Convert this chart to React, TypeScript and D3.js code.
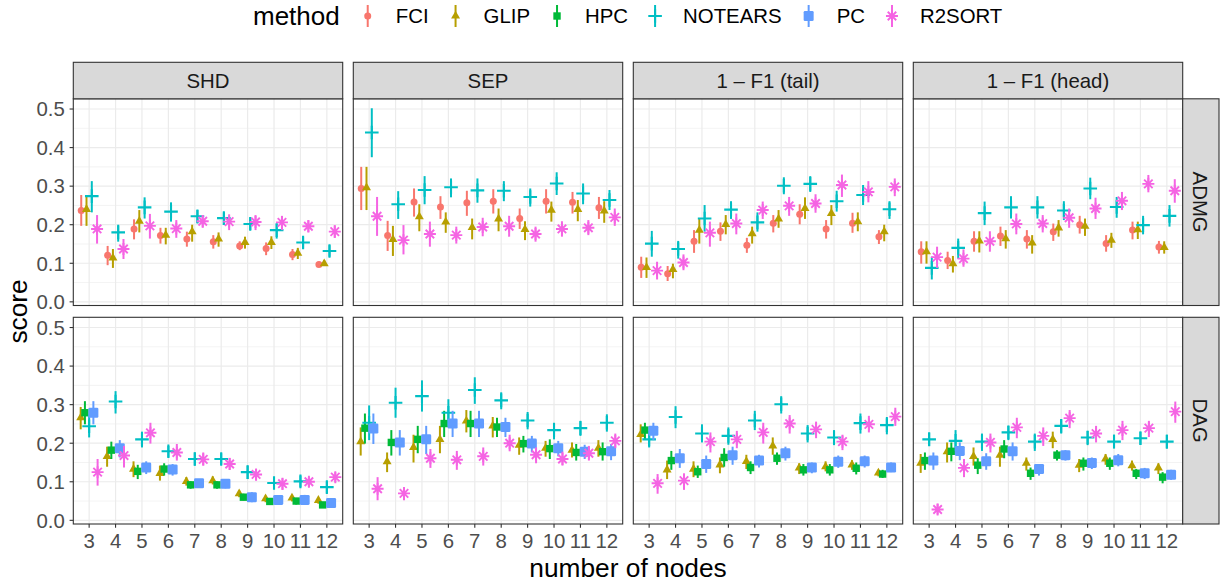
import React, { useMemo } from 'react';
import * as d3 from 'd3';

// ---------- categories ----------
const NODES = [3, 4, 5, 6, 7, 8, 9, 10, 11, 12];
const METHODS = ['FCI', 'GLIP', 'HPC', 'NOTEARS', 'PC', 'R2SORT'];
const METHOD_COLORS = ['#F8766D', '#B79F00', '#00BA38', '#00BFC4', '#619CFF', '#F564E3'];
const METRICS = ['SHD', 'SEP', '1 – F1 (tail)', '1 – F1 (head)'];
const GRAPH_TYPES = ['ADMG', 'DAG'];
const Y_TICKS = [0, 0.1, 0.2, 0.3, 0.4, 0.5];
const Y_MINOR = [0.05, 0.15, 0.25, 0.35, 0.45];

// ---------- data: [mean, lower, upper] per node count ----------
// ADMG – SHD
const ADMG_SHD_FCI = [[.237,.197,.277],[.121,.095,.145],[.189,.162,.214],[.172,.151,.192],[.163,.143,.182],[.156,.138,.173],[.145,.134,.157],[.138,.121,.154],[.123,.108,.137],[.097,.091,.104]];
const ADMG_SHD_GLIP = [[.24,.197,.272],[.114,.088,.137],[.209,.18,.238],[.173,.149,.192],[.182,.156,.2],[.163,.143,.18],[.154,.138,.169],[.154,.137,.17],[.126,.111,.14],[.099,.093,.108]];
const ADMG_SHD_NOTEARS = [[.274,.232,.313],[.18,.156,.2],[.245,.216,.271],[.234,.208,.258],[.222,.203,.238],[.217,.2,.232],[.202,.186,.22],[.186,.164,.203],[.154,.138,.169],[.132,.117,.147]];
const ADMG_SHD_R2SORT = [[.189,.151,.225],[.137,.111,.163],[.197,.164,.228],[.19,.166,.212],[.209,.192,.225],[.208,.186,.227],[.207,.186,.225],[.206,.186,.223],[.196,.18,.212],[.182,.166,.199]];
// ADMG – SEP
const ADMG_SEP_FCI = [[.294,.238,.35],[.172,.132,.21],[.259,.221,.294],[.246,.215,.274],[.257,.223,.288],[.261,.229,.292],[.216,.189,.242],[.261,.229,.292],[.258,.229,.285],[.244,.215,.272]];
const ADMG_SEP_GLIP = [[.296,.238,.35],[.162,.119,.197],[.221,.183,.253],[.207,.179,.232],[.193,.162,.216],[.215,.183,.242],[.188,.16,.209],[.238,.208,.26],[.24,.209,.264],[.236,.205,.261]];
const ADMG_SEP_NOTEARS = [[.439,.375,.502],[.253,.215,.287],[.29,.253,.326],[.297,.271,.32],[.289,.257,.32],[.288,.261,.313],[.272,.247,.294],[.307,.277,.336],[.281,.253,.307],[.264,.238,.29]];
const ADMG_SEP_R2SORT = [[.222,.171,.272],[.16,.123,.199],[.176,.143,.208],[.173,.151,.195],[.194,.17,.218],[.196,.169,.223],[.176,.156,.195],[.189,.169,.209],[.192,.173,.212],[.219,.197,.242]];
// ADMG – 1-F1 (tail)
const ADMG_TAIL_FCI = [[.09,.062,.117],[.073,.054,.093],[.157,.127,.186],[.183,.158,.206],[.147,.127,.166],[.204,.18,.225],[.227,.201,.253],[.189,.164,.212],[.204,.179,.231],[.169,.15,.186]];
const ADMG_TAIL_GLIP = [[.089,.062,.115],[.084,.061,.099],[.186,.151,.215],[.201,.175,.225],[.177,.151,.195],[.215,.192,.238],[.242,.215,.271],[.229,.199,.251],[.208,.183,.232],[.182,.157,.2]];
const ADMG_TAIL_NOTEARS = [[.151,.117,.184],[.137,.112,.158],[.216,.182,.251],[.239,.215,.261],[.206,.182,.232],[.301,.279,.323],[.306,.285,.326],[.261,.234,.288],[.277,.251,.303],[.24,.215,.261]];
const ADMG_TAIL_R2SORT = [[.081,.058,.104],[.102,.082,.123],[.179,.143,.208],[.203,.175,.229],[.238,.215,.26],[.249,.223,.272],[.255,.231,.279],[.303,.272,.33],[.285,.258,.313],[.298,.274,.32]];
// ADMG – 1-F1 (head)
const ADMG_HEAD_FCI = [[.13,.099,.157],[.107,.085,.13],[.157,.13,.183],[.171,.145,.195],[.163,.138,.186],[.182,.158,.203],[.2,.177,.223],[.151,.13,.173],[.186,.162,.208],[.142,.125,.158]];
const ADMG_HEAD_GLIP = [[.13,.099,.157],[.099,.076,.119],[.158,.128,.183],[.164,.138,.186],[.153,.125,.173],[.192,.169,.212],[.196,.171,.216],[.16,.14,.179],[.187,.163,.208],[.141,.125,.157]];
const ADMG_HEAD_NOTEARS = [[.088,.058,.117],[.14,.112,.164],[.23,.199,.26],[.245,.216,.274],[.245,.216,.274],[.237,.212,.261],[.294,.266,.322],[.246,.218,.272],[.199,.175,.223],[.223,.195,.251]];
const ADMG_HEAD_R2SORT = [[.116,.088,.143],[.112,.091,.136],[.157,.13,.183],[.202,.175,.229],[.203,.18,.225],[.218,.192,.242],[.242,.215,.27],[.262,.238,.285],[.306,.284,.329],[.288,.257,.318]];
// DAG – SHD
const DAG_SHD_GLIP = [[.266,.236,.294],[.166,.139,.191],[.133,.112,.153],[.122,.103,.142],[.101,.09,.112],[.103,.093,.114],[.069,.06,.077],[.056,.047,.064],[.058,.049,.066],[.052,.043,.058]];
const DAG_SHD_HPC = [[.279,.249,.309],[.182,.159,.204],[.127,.107,.144],[.133,.116,.148],[.092,.082,.101],[.092,.082,.101],[.06,.052,.069],[.049,.041,.056],[.05,.041,.058],[.04,.033,.047]];
const DAG_SHD_NOTEARS = [[.244,.215,.275],[.308,.277,.335],[.21,.189,.23],[.179,.163,.193],[.159,.142,.176],[.159,.144,.174],[.125,.107,.142],[.097,.082,.112],[.101,.086,.116],[.086,.07,.101]];
const DAG_SHD_PC = [[.279,.249,.309],[.187,.163,.208],[.137,.12,.153],[.132,.116,.146],[.096,.084,.107],[.095,.083,.106],[.06,.047,.073],[.053,.041,.064],[.053,.041,.066],[.045,.033,.056]];
const DAG_SHD_R2SORT = [[.125,.09,.159],[.168,.137,.193],[.227,.199,.253],[.176,.155,.198],[.158,.142,.176],[.146,.131,.162],[.119,.103,.133],[.095,.079,.109],[.1,.086,.113],[.112,.099,.125]];
// DAG – SEP
const DAG_SEP_GLIP = [[.204,.168,.241],[.152,.125,.176],[.189,.15,.222],[.21,.174,.245],[.258,.228,.286],[.245,.215,.268],[.195,.17,.215],[.187,.165,.206],[.182,.163,.202],[.187,.165,.208]];
const DAG_SEP_HPC = [[.239,.199,.277],[.202,.168,.234],[.21,.174,.245],[.251,.216,.284],[.251,.216,.284],[.242,.216,.266],[.199,.176,.219],[.186,.159,.21],[.176,.155,.198],[.178,.155,.202]];
const DAG_SEP_NOTEARS = [[.253,.208,.298],[.305,.266,.344],[.322,.282,.363],[.279,.245,.314],[.338,.302,.371],[.311,.288,.332],[.259,.236,.281],[.234,.21,.253],[.239,.219,.258],[.253,.23,.275]];
const DAG_SEP_PC = [[.238,.198,.277],[.202,.168,.234],[.21,.172,.245],[.251,.216,.284],[.251,.216,.284],[.242,.216,.266],[.199,.176,.219],[.187,.166,.206],[.178,.159,.196],[.179,.156,.198]];
const DAG_SEP_R2SORT = [[.082,.052,.112],[.07,.052,.086],[.161,.136,.185],[.157,.131,.18],[.166,.142,.189],[.2,.179,.222],[.17,.148,.189],[.159,.142,.178],[.174,.155,.193],[.206,.187,.225]];
// DAG – 1-F1 (tail)
const DAG_TAIL_GLIP = [[.223,.202,.249],[.131,.107,.155],[.133,.112,.153],[.144,.122,.163],[.153,.133,.17],[.193,.17,.215],[.136,.12,.148],[.139,.127,.153],[.144,.131,.156],[.123,.114,.131]];
const DAG_TAIL_HPC = [[.234,.21,.253],[.155,.131,.18],[.126,.11,.142],[.163,.139,.187],[.137,.12,.153],[.161,.144,.176],[.131,.116,.146],[.131,.116,.146],[.135,.119,.15],[.12,.11,.131]];
const DAG_TAIL_NOTEARS = [[.21,.189,.232],[.268,.239,.296],[.225,.202,.249],[.219,.196,.241],[.259,.234,.284],[.301,.277,.322],[.225,.202,.247],[.215,.195,.234],[.252,.225,.277],[.247,.223,.268]];
const DAG_TAIL_PC = [[.232,.208,.253],[.161,.136,.185],[.146,.123,.168],[.169,.144,.191],[.155,.137,.17],[.174,.155,.191],[.137,.122,.15],[.152,.136,.168],[.153,.137,.168],[.137,.125,.15]];
const DAG_TAIL_R2SORT = [[.096,.069,.12],[.103,.079,.122],[.204,.176,.228],[.21,.187,.232],[.228,.199,.253],[.251,.225,.273],[.236,.213,.256],[.204,.182,.222],[.249,.228,.271],[.269,.245,.292]];
// DAG – 1-F1 (head)
const DAG_HEAD_GLIP = [[.148,.123,.172],[.178,.15,.202],[.166,.142,.189],[.169,.139,.191],[.148,.129,.163],[.21,.187,.23],[.143,.125,.159],[.159,.144,.172],[.142,.129,.155],[.136,.12,.148]];
const DAG_HEAD_HPC = [[.155,.131,.176],[.179,.153,.202],[.143,.12,.161],[.185,.161,.208],[.122,.105,.137],[.169,.155,.182],[.148,.129,.163],[.148,.131,.163],[.122,.107,.133],[.112,.096,.125]];
const DAG_HEAD_NOTEARS = [[.21,.193,.228],[.206,.18,.234],[.204,.18,.225],[.228,.208,.245],[.204,.18,.225],[.245,.225,.262],[.215,.195,.232],[.204,.187,.222],[.213,.196,.23],[.204,.186,.222]];
const DAG_HEAD_PC = [[.155,.131,.176],[.18,.156,.202],[.153,.131,.174],[.179,.155,.202],[.133,.116,.146],[.169,.155,.182],[.149,.133,.163],[.156,.14,.172],[.122,.107,.136],[.118,.105,.131]];
const DAG_HEAD_R2SORT = [[.028,.015,.043],[.136,.112,.159],[.202,.176,.225],[.241,.213,.266],[.219,.193,.241],[.265,.239,.286],[.225,.202,.245],[.234,.208,.258],[.239,.216,.258],[.282,.253,.308]];

// panel table: [row][col] -> { method: values }
const PANEL_DATA: Record<string, number[][]>[][] = [
  [
    { FCI: ADMG_SHD_FCI, GLIP: ADMG_SHD_GLIP, NOTEARS: ADMG_SHD_NOTEARS, R2SORT: ADMG_SHD_R2SORT },
    { FCI: ADMG_SEP_FCI, GLIP: ADMG_SEP_GLIP, NOTEARS: ADMG_SEP_NOTEARS, R2SORT: ADMG_SEP_R2SORT },
    { FCI: ADMG_TAIL_FCI, GLIP: ADMG_TAIL_GLIP, NOTEARS: ADMG_TAIL_NOTEARS, R2SORT: ADMG_TAIL_R2SORT },
    { FCI: ADMG_HEAD_FCI, GLIP: ADMG_HEAD_GLIP, NOTEARS: ADMG_HEAD_NOTEARS, R2SORT: ADMG_HEAD_R2SORT },
  ],
  [
    { GLIP: DAG_SHD_GLIP, HPC: DAG_SHD_HPC, NOTEARS: DAG_SHD_NOTEARS, PC: DAG_SHD_PC, R2SORT: DAG_SHD_R2SORT },
    { GLIP: DAG_SEP_GLIP, HPC: DAG_SEP_HPC, NOTEARS: DAG_SEP_NOTEARS, PC: DAG_SEP_PC, R2SORT: DAG_SEP_R2SORT },
    { GLIP: DAG_TAIL_GLIP, HPC: DAG_TAIL_HPC, NOTEARS: DAG_TAIL_NOTEARS, PC: DAG_TAIL_PC, R2SORT: DAG_TAIL_R2SORT },
    { GLIP: DAG_HEAD_GLIP, HPC: DAG_HEAD_HPC, NOTEARS: DAG_HEAD_NOTEARS, PC: DAG_HEAD_PC, R2SORT: DAG_HEAD_R2SORT },
  ],
];

const FONT = "'Liberation Sans', Arial, Helvetica, sans-serif";

function Marker({ method, cx, cy, color }: { method: string; cx: number; cy: number; color: string }) {
  switch (method) {
    case 'FCI':
      return <circle cx={cx} cy={cy} r={3.5} fill={color} />;
    case 'GLIP': {
      const s = 9, h = s * 0.866;
      return <path d={`M${cx},${cy - (2 * h) / 3}L${cx + s / 2},${cy + h / 3}L${cx - s / 2},${cy + h / 3}Z`} fill={color} />;
    }
    case 'HPC':
      return <rect x={cx - 3.7} y={cy - 3.7} width={7.4} height={7.4} fill={color} />;
    case 'NOTEARS':
      return <path d={`M${cx - 6.8},${cy}H${cx + 6.8}M${cx},${cy - 6.8}V${cy + 6.8}`} stroke={color} strokeWidth={2.1} fill="none" />;
    case 'PC':
      return <rect x={cx - 5} y={cy - 5} width={10} height={10} rx={1.3} fill={color} />;
    case 'R2SORT': {
      const r = 6, d = r * 0.707;
      return (
        <path
          d={`M${cx - r},${cy}H${cx + r}M${cx},${cy - r}V${cy + r}M${cx - d},${cy - d}L${cx + d},${cy + d}M${cx - d},${cy + d}L${cx + d},${cy - d}`}
          stroke={color}
          strokeWidth={1.9}
          fill="none"
        />
      );
    }
    default:
      return null;
  }
}

export default function App() {
  const W = 1225, H = 588;
  const left0 = 73.3, panelW = 269.4, gapX = 10.6;
  const rowTop = [98.8, 317.3];
  const panelH = 206.7;
  const stripTop = 62.3;
  const rightStripX = 1182.7, rightStripW = 36.3;

  const x = d3.scaleLinear().domain([2.4, 12.6]).range([0, panelW]);
  const y = d3.scaleLinear().domain([-0.0095, 0.5265]).range([panelH, 0]);
  const dodgeWidth = 0.8;

  const smallSize = 20.4;
  const titleSize = 26.3;

  // legend layout via text measurement
  const legend = useMemo(() => {
    const canvas = document.createElement('canvas');
    const ctx = canvas.getContext('2d')!;
    ctx.font = `${26}px ${FONT}`;
    const titleX = 253;
    let pos = titleX + ctx.measureText('method').width + 28;
    ctx.font = `${smallSize}px ${FONT}`;
    const items = METHODS.map((m, i) => {
      const keyX = pos;
      const labelX = keyX + 28;
      pos = labelX + ctx.measureText(m).width + 27;
      return { m, color: METHOD_COLORS[i], keyX, labelX };
    });
    return { titleX, items };
  }, []);

  const panels: JSX.Element[] = [];
  GRAPH_TYPES.forEach((gt, r) => {
    METRICS.forEach((metric, c) => {
      const px = left0 + c * (panelW + gapX);
      const py = rowTop[r];
      const data = PANEL_DATA[r][c];
      const present = METHODS.filter((m) => data[m]);
      const n = present.length;
      const step = dodgeWidth / n;
      panels.push(
        <g key={`${gt}-${metric}`} transform={`translate(${px},${py})`}>
          <rect width={panelW} height={panelH} fill="#FFFFFF" />
          {Y_MINOR.map((t) => (
            <line key={`mi${t}`} x1={0} x2={panelW} y1={y(t)} y2={y(t)} stroke="#EBEBEB" strokeWidth={0.6} />
          ))}
          {Y_TICKS.map((t) => (
            <line key={`ma${t}`} x1={0} x2={panelW} y1={y(t)} y2={y(t)} stroke="#EBEBEB" strokeWidth={1.2} />
          ))}
          {NODES.map((nd) => (
            <line key={`vx${nd}`} x1={x(nd)} x2={x(nd)} y1={0} y2={panelH} stroke="#EBEBEB" strokeWidth={1.2} />
          ))}
          {present.map((m, gi) => {
            const color = METHOD_COLORS[METHODS.indexOf(m)];
            const off = (gi - (n - 1) / 2) * step;
            return (
              <g key={m}>
                {data[m].map((v, i) => {
                  const cx = x(NODES[i] + off);
                  return (
                    <g key={i}>
                      <line x1={cx} x2={cx} y1={y(v[1])} y2={y(v[2])} stroke={color} strokeWidth={2} />
                      <Marker method={m} cx={cx} cy={y(v[0])} color={color} />
                    </g>
                  );
                })}
              </g>
            );
          })}
          <rect width={panelW} height={panelH} fill="none" stroke="#333333" strokeWidth={1.1} />
          {/* y axis */}
          {c === 0 &&
            Y_TICKS.map((t) => (
              <g key={`yt${t}`}>
                <line x1={-3.7} x2={0} y1={y(t)} y2={y(t)} stroke="#333333" strokeWidth={1.1} />
                <text x={-8.5} y={y(t)} dy="0.36em" textAnchor="end" fontSize={smallSize} fill="#4D4D4D" fontFamily={FONT}>
                  {d3.format('.1f')(t)}
                </text>
              </g>
            ))}
          {/* x axis */}
          {r === 1 &&
            NODES.map((nd) => (
              <g key={`xt${nd}`}>
                <line x1={x(nd)} x2={x(nd)} y1={panelH} y2={panelH + 3.7} stroke="#333333" strokeWidth={1.1} />
                <text x={x(nd)} y={panelH + 24.3} textAnchor="middle" fontSize={smallSize} fill="#4D4D4D" fontFamily={FONT}>
                  {nd}
                </text>
              </g>
            ))}
          {/* top strip */}
          {r === 0 && (
            <g transform={`translate(0,${stripTop - py})`}>
              <rect width={panelW} height={py - stripTop} fill="#D9D9D9" stroke="#333333" strokeWidth={1.1} />
              <text x={panelW / 2} y={(py - stripTop) / 2} dy="0.36em" textAnchor="middle" fontSize={smallSize} fill="#1A1A1A" fontFamily={FONT}>
                {metric}
              </text>
            </g>
          )}
        </g>
      );
    });
  });

  return (
    <svg width={W} height={H} style={{ position: 'absolute', left: 0, top: 0, background: '#FFFFFF' }} fontFamily={FONT}>
      <rect width={W} height={H} fill="#FFFFFF" />
      {panels}
      {GRAPH_TYPES.map((gt, r) => (
        <g key={gt} transform={`translate(${rightStripX},${rowTop[r]})`}>
          <rect width={rightStripW} height={panelH} fill="#D9D9D9" stroke="#333333" strokeWidth={1.1} />
          <text
            transform={`translate(${rightStripW / 2},${panelH / 2}) rotate(90)`}
            dy="0.36em"
            textAnchor="middle"
            fontSize={smallSize}
            fill="#1A1A1A"
            fontFamily={FONT}
          >
            {gt}
          </text>
        </g>
      ))}
      {/* axis titles */}
      <text x={(left0 + rightStripX) / 2} y={577} textAnchor="middle" fontSize={titleSize} fill="#000000" fontFamily={FONT}>
        number of nodes
      </text>
      <text transform={`translate(18,${(rowTop[0] + rowTop[1] + panelH) / 2}) rotate(-90)`} dy="0.36em" textAnchor="middle" fontSize={titleSize} fill="#000000" fontFamily={FONT}>
        score
      </text>
      {/* legend */}
      <text x={legend.titleX} y={25} fontSize={26} fill="#000000" fontFamily={FONT}>
        method
      </text>
      {legend.items.map((it) => (
        <g key={it.m}>
          <line x1={it.keyX} x2={it.keyX} y1={5} y2={27} stroke={it.color} strokeWidth={2} />
          <Marker method={it.m} cx={it.keyX} cy={16} color={it.color} />
          <text x={it.labelX} y={22.7} fontSize={smallSize} fill="#000000" fontFamily={FONT}>
            {it.m}
          </text>
        </g>
      ))}
    </svg>
  );
}
